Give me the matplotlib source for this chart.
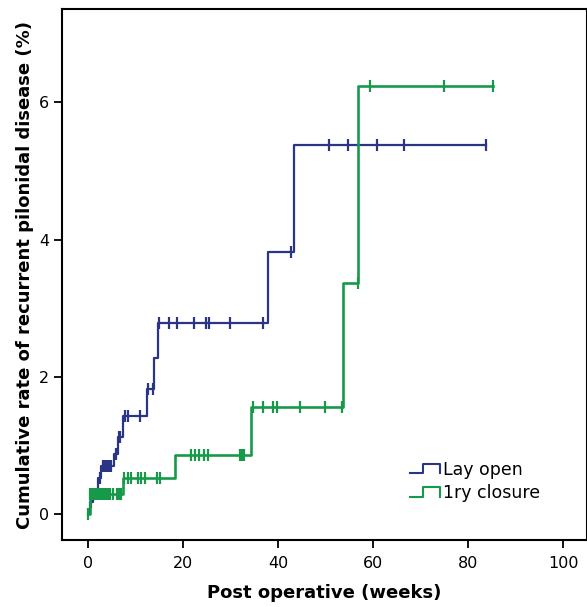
import numpy as np
import matplotlib
matplotlib.use('Agg')
import matplotlib.pyplot as plt
from matplotlib.lines import Line2D
from matplotlib.legend_handler import HandlerBase

# step times (weeks) and cumulative rate (%)
lay_t = [0, 0.3, 1.0, 2.0, 2.8, 5.5, 6.2, 7.3, 12.3, 13.9, 14.8, 37.8, 43.4, 83.8]
lay_v = [0, 0.17, 0.30, 0.52, 0.70, 0.88, 1.12, 1.43, 1.82, 2.27, 2.79, 3.82, 5.38, 5.38]
lay_cens = [0.6, 1.2, 1.6, 2.4, 3.2, 3.6, 4.0, 4.4, 4.8, 5.8, 6.4, 6.8, 7.8, 8.3, 11.0,
            12.6, 13.6, 15.0, 17.0, 18.7, 22.2, 24.8, 25.5, 29.9, 36.8, 42.7,
            50.8, 54.8, 60.8, 66.4, 83.8]

clo_t = [0, 0.3, 7.4, 18.2, 34.2, 53.6, 56.9, 85.3]
clo_v = [0, 0.30, 0.52, 0.86, 1.56, 3.37, 6.24, 6.24]
clo_cens = [0, 0.5, 0.8, 1.1, 1.4, 1.7, 2.0, 2.3, 2.6, 3.0, 3.4, 3.8, 4.2, 4.7, 5.2,
            6.0, 6.6, 7.0, 7.6, 8.3, 9.0, 10.6, 11.2, 11.9, 14.4, 15.1, 21.6, 22.5,
            23.4, 24.3, 25.3, 32.0, 32.4, 32.8, 34.8, 36.9, 39.0, 39.7, 44.6, 49.9,
            53.4, 56.8, 59.4, 75.0, 85.3]

labels = ['Lay open', '1ry closure']
colors = ['#2b3585', '#17994a']


def step_at(t, v, x):
    idx = np.searchsorted(t, x, side='right') - 1
    return np.asarray(v)[idx]


class StepHandler(HandlerBase):
    def create_artists(self, legend, orig, xd, yd, w, h, fontsize, trans):
        xs = [xd, xd + 0.45 * w, xd + 0.45 * w, xd + w, xd + w]
        ys = [yd + 0.1 * h, yd + 0.1 * h, yd + 0.85 * h, yd + 0.85 * h, yd + 0.1 * h]
        ln = Line2D(xs, ys, color=orig.get_color(), lw=1.5)
        ln.set_transform(trans)
        return [ln]


fig = plt.figure(figsize=(5.87, 6.07), dpi=100)
ax = fig.add_axes([0.1056, 0.110, 0.8944, 0.875])

handles = []
for t, v, cens, c, lab, lw in [(lay_t, lay_v, lay_cens, colors[0], labels[0], 1.6),
                               (clo_t, clo_v, clo_cens, colors[1], labels[1], 1.9)]:
    h, = ax.step(t, v, where='post', color=c, lw=lw, label=lab)
    ax.plot(cens, step_at(t, v, cens), ls='none', marker='|', ms=8, mew=1.6, color=c)
    handles.append(h)

ax.set_xlim(-5.5, 105)
ax.set_ylim(-0.38, 7.36)
ax.set_xticks([0, 20, 40, 60, 80, 100])
ax.set_yticks([0, 2, 4, 6])
ax.tick_params(direction='out', length=6, width=1.3, labelsize=11.5, pad=3)
ax.tick_params(axis='x', pad=5)
for s in ['left', 'bottom', 'top', 'right']:
    ax.spines[s].set_linewidth(1.5)
ax.set_xlabel('Post operative (weeks)', fontsize=13, fontweight='bold', labelpad=10)
ax.set_ylabel('Cumulative rate of recurrent pilonidal disease (%)', fontsize=13,
              fontweight='bold', labelpad=4)

ax.legend(handles=handles, labels=labels, handler_map={h: StepHandler() for h in handles},
          loc='upper left', bbox_to_anchor=(0.65, 0.163), frameon=False, fontsize=12.5,
          handlelength=1.7, handletextpad=0.2, labelspacing=0.3, borderaxespad=0)

fig.savefig('out.png', dpi=100)
